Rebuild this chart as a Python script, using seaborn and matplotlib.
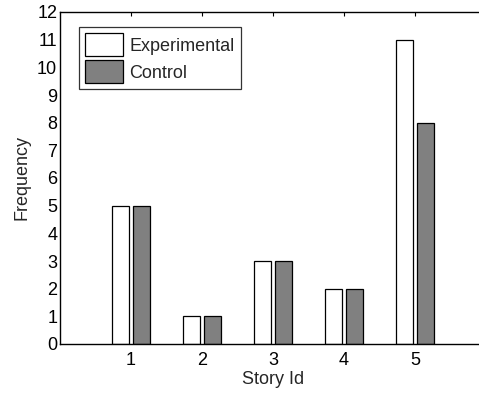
import matplotlib
matplotlib.use("Agg")
import matplotlib.pyplot as plt
import seaborn as sns
import pandas as pd

stories = [1, 2, 3, 4, 5]
experimental = [5, 1, 3, 2, 11]
control = [5, 1, 3, 2, 8]
groups = ["Experimental", "Control"]

df = pd.DataFrame({
    "Story Id": stories * 2,
    "Frequency": experimental + control,
    "Group": [groups[0]] * len(stories) + [groups[1]] * len(stories),
})

sns.set_theme(style="white")
plt.rcParams["font.family"] = ["Liberation Sans", "DejaVu Sans"]
FS = 13

fig = plt.figure(figsize=(4.79, 3.93), dpi=100)
ax = fig.add_axes([60 / 479, 49 / 393, 426 / 479, 332 / 393])

sns.barplot(data=df, x="Story Id", y="Frequency", hue="Group", hue_order=groups,
            palette=["white", "#808080"], native_scale=True, width=0.58, gap=0.2,
            edgecolor="black", linewidth=0.9, errorbar=None, ax=ax, legend=True)

ax.set_xlim(0, 6)
ax.set_ylim(0, 12)
ax.set_xticks(stories)
ax.set_xticklabels([str(s) for s in stories])
ax.set_yticks(range(0, 13))
ax.tick_params(direction="in", length=3, width=0.8, top=True, right=True,
               labelsize=FS, colors="black")
ax.tick_params(axis="x", pad=6)
ax.tick_params(axis="y", pad=2)
for s in ax.spines.values():
    s.set_visible(True)
    s.set_color("black")
    s.set_linewidth(1.0)
ax.set_xlabel("Story Id", fontsize=FS, labelpad=1.5)
ax.set_ylabel("Frequency", fontsize=FS, labelpad=5)

leg = ax.legend(loc="upper left", bbox_to_anchor=(0.045, 0.955), borderaxespad=0,
                frameon=True, fancybox=False, edgecolor="black", fontsize=FS,
                handlelength=2.1, handleheight=1.55, handletextpad=0.33,
                labelspacing=0.25, borderpad=0.35)
leg.get_frame().set_linewidth(0.9)
leg.get_frame().set_facecolor("white")

fig.savefig("out.png", dpi=100)
